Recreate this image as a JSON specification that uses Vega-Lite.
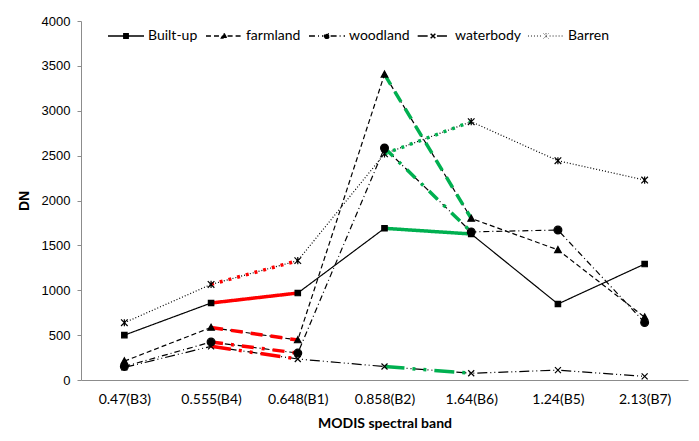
{
  "$schema": "https://vega.github.io/schema/vega-lite/v6.json",
  "width": 607,
  "height": 359,
  "autosize": "none",
  "padding": {"left": 81, "top": 21, "right": 11, "bottom": 61},
  "background": "white",
  "config": {"view": {"stroke": null}},
  "datasets": {
    "main": [
      {"band": "0.47(B3)", "type": "Built-up", "value": 500},
      {"band": "0.555(B4)", "type": "Built-up", "value": 858},
      {"band": "0.648(B1)", "type": "Built-up", "value": 969},
      {"band": "0.858(B2)", "type": "Built-up", "value": 1690},
      {"band": "1.64(B6)", "type": "Built-up", "value": 1627},
      {"band": "1.24(B5)", "type": "Built-up", "value": 847},
      {"band": "2.13(B7)", "type": "Built-up", "value": 1292},
      {"band": "0.47(B3)", "type": "farmland", "value": 210},
      {"band": "0.555(B4)", "type": "farmland", "value": 585},
      {"band": "0.648(B1)", "type": "farmland", "value": 445},
      {"band": "0.858(B2)", "type": "farmland", "value": 3405},
      {"band": "1.64(B6)", "type": "farmland", "value": 1800},
      {"band": "1.24(B5)", "type": "farmland", "value": 1450},
      {"band": "2.13(B7)", "type": "farmland", "value": 700},
      {"band": "0.47(B3)", "type": "woodland", "value": 150},
      {"band": "0.555(B4)", "type": "woodland", "value": 423},
      {"band": "0.648(B1)", "type": "woodland", "value": 300},
      {"band": "0.858(B2)", "type": "woodland", "value": 2585},
      {"band": "1.64(B6)", "type": "woodland", "value": 1650},
      {"band": "1.24(B5)", "type": "woodland", "value": 1671},
      {"band": "2.13(B7)", "type": "woodland", "value": 640},
      {"band": "0.47(B3)", "type": "waterbody", "value": 140},
      {"band": "0.555(B4)", "type": "waterbody", "value": 375},
      {"band": "0.648(B1)", "type": "waterbody", "value": 234},
      {"band": "0.858(B2)", "type": "waterbody", "value": 150},
      {"band": "1.64(B6)", "type": "waterbody", "value": 75},
      {"band": "1.24(B5)", "type": "waterbody", "value": 110},
      {"band": "2.13(B7)", "type": "waterbody", "value": 40},
      {"band": "0.47(B3)", "type": "Barren", "value": 638},
      {"band": "0.555(B4)", "type": "Barren", "value": 1065},
      {"band": "0.648(B1)", "type": "Barren", "value": 1330},
      {"band": "0.858(B2)", "type": "Barren", "value": 2520},
      {"band": "1.64(B6)", "type": "Barren", "value": 2878},
      {"band": "1.24(B5)", "type": "Barren", "value": 2443},
      {"band": "2.13(B7)", "type": "Barren", "value": 2228}
    ],
    "overlay": [
      {"band": "0.555(B4)", "type": "Built-up", "value": 858, "seg": "red"},
      {"band": "0.648(B1)", "type": "Built-up", "value": 969, "seg": "red"},
      {"band": "0.555(B4)", "type": "farmland", "value": 585, "seg": "red"},
      {"band": "0.648(B1)", "type": "farmland", "value": 445, "seg": "red"},
      {"band": "0.555(B4)", "type": "woodland", "value": 423, "seg": "red"},
      {"band": "0.648(B1)", "type": "woodland", "value": 300, "seg": "red"},
      {"band": "0.555(B4)", "type": "waterbody", "value": 375, "seg": "red"},
      {"band": "0.648(B1)", "type": "waterbody", "value": 234, "seg": "red"},
      {"band": "0.555(B4)", "type": "Barren", "value": 1065, "seg": "red"},
      {"band": "0.648(B1)", "type": "Barren", "value": 1330, "seg": "red"},
      {"band": "0.858(B2)", "type": "Built-up", "value": 1690, "seg": "green"},
      {"band": "1.64(B6)", "type": "Built-up", "value": 1627, "seg": "green"},
      {"band": "0.858(B2)", "type": "farmland", "value": 3405, "seg": "green"},
      {"band": "1.64(B6)", "type": "farmland", "value": 1800, "seg": "green"},
      {"band": "0.858(B2)", "type": "woodland", "value": 2585, "seg": "green"},
      {"band": "1.64(B6)", "type": "woodland", "value": 1650, "seg": "green"},
      {"band": "0.858(B2)", "type": "waterbody", "value": 150, "seg": "green"},
      {"band": "1.64(B6)", "type": "waterbody", "value": 75, "seg": "green"},
      {"band": "0.858(B2)", "type": "Barren", "value": 2520, "seg": "green"},
      {"band": "1.64(B6)", "type": "Barren", "value": 2878, "seg": "green"}
    ]
  },
  "encoding": {
    "x": {
      "field": "band", "type": "nominal",
      "scale": {"type": "point", "padding": 0.5, "domain": ["0.47(B3)", "0.555(B4)", "0.648(B1)", "0.858(B2)", "1.64(B6)", "1.24(B5)", "2.13(B7)"]},
      "axis": {
        "title": "MODIS  spectral band", "labelAngle": 0, "ticks": false, "grid": false,
        "domainColor": "#8c8c8c", "labelPadding": 12,
        "labelFont": "Lato", "labelFontSize": 14, "labelColor": "#000000",
        "titleFont": "Lato", "titleFontSize": 14, "titleFontWeight": "bold", "titleColor": "#000000", "titlePadding": 10
      }
    },
    "y": {
      "field": "value", "type": "quantitative",
      "scale": {"domain": [0, 4000], "nice": false},
      "axis": {
        "title": "DN", "values": [0, 500, 1000, 1500, 2000, 2500, 3000, 3500, 4000], "format": "d",
        "grid": false, "domainColor": "#8c8c8c", "tickColor": "#8c8c8c", "tickSize": 4, "labelPadding": 7,
        "labelFont": "Liberation Sans", "labelFontSize": 13, "labelColor": "#000000",
        "titleFont": "Liberation Sans", "titleFontSize": 14, "titleFontWeight": "bold", "titleColor": "#000000", "titlePadding": 10
      }
    }
  },
  "layer": [
    {
      "data": {"name": "main"},
      "mark": {"type": "line", "color": "#000000", "strokeWidth": 1.2},
      "encoding": {
        "detail": {"field": "type"},
        "strokeDash": {
          "field": "type", "type": "nominal",
          "scale": {"domain": ["Built-up", "farmland", "woodland", "waterbody", "Barren"],
                    "range": [[1, 0], [5, 3], [6, 3, 1, 3], [10, 3, 1, 3, 1, 3], [1, 2]]},
          "legend": {
            "title": null, "orient": "none", "legendX": 38, "legendY": 8, "direction": "horizontal",
            "symbolSize": 1300, "symbolStrokeWidth": 1.3, "symbolStrokeColor": "#000000",
            "labelFont": "Lato", "labelFontSize": 14, "labelColor": "#000000", "labelOffset": 15, "columnPadding": 4,
            "encoding": {
              "symbols": {
                "fill": {"value": "#000000"},
                "stroke": {"value": "#000000"},
                "shape": {"value": {"expr": "datum.value === 'Built-up' ? 'M-1,0H1M-0.12,-0.12H0.12V0.12H-0.12Z' : datum.value === 'farmland' ? 'M-1,0H-0.2M0.2,0H1M0,-0.14L0.14,0.11L-0.14,0.11Z' : datum.value === 'woodland' ? 'M-1,0H-0.2M0.2,0H1M-0.13,0A0.13,0.13 0 1 0 0.13,0A0.13,0.13 0 1 0 -0.13,0Z' : datum.value === 'waterbody' ? 'M-0.85,0H-0.22M0.22,0H0.85M-0.13,-0.13L0.13,0.13M-0.13,0.13L0.13,-0.13' : 'M-1,0H-0.2M0.2,0H1M-0.13,-0.13L0.13,0.13M-0.13,0.13L0.13,-0.13M0,-0.15V0.15'"}},
                "strokeWidth": {"value": {"expr": "datum.value === 'Barren' ? 0.9 : 1.5"}}
              }
            }
          }
        }
      }
    },
    {
      "data": {"name": "overlay"},
      "mark": {"type": "line", "strokeWidth": 3.5},
      "encoding": {
        "color": {"field": "seg", "type": "nominal", "legend": null,
                  "scale": {"domain": ["red", "green"], "range": ["#ff0000", "#00b050"]}},
        "detail": {"field": "type"},
        "strokeDash": {
          "field": "type", "type": "nominal", "legend": null,
          "scale": {"domain": ["Built-up", "farmland", "woodland", "waterbody", "Barren"],
                    "range": [[1, 0], [12, 8], [12, 8, 3, 8], [20, 8, 3, 8, 3, 8], [3, 6]]}
        }
      }
    },
    {
      "data": {"name": "main"},
      "mark": {"type": "point", "filled": true, "color": "#000000", "stroke": "#000000", "strokeWidth": 1.2, "opacity": 1, "size": 36},
      "encoding": {
        "shape": {
          "field": "type", "type": "nominal", "legend": null,
          "scale": {"domain": ["Built-up", "farmland", "woodland", "waterbody", "Barren"],
                    "range": ["M-0.9,-0.9H0.9V0.9H-0.9Z", "M0,-1.1L1.1,0.9L-1.1,0.9Z", "M-1.3,0A1.3,1.3 0 1 0 1.3,0A1.3,1.3 0 1 0 -1.3,0Z", "M-1,-1L1,1M-1,1L1,-1", "M-1.1,-1.1L1.1,1.1M-1.1,1.1L1.1,-1.1M0,-1.2V1.2"]}
        }
      }
    }
  ],
  "resolve": {"scale": {"strokeDash": "independent"}}
}
